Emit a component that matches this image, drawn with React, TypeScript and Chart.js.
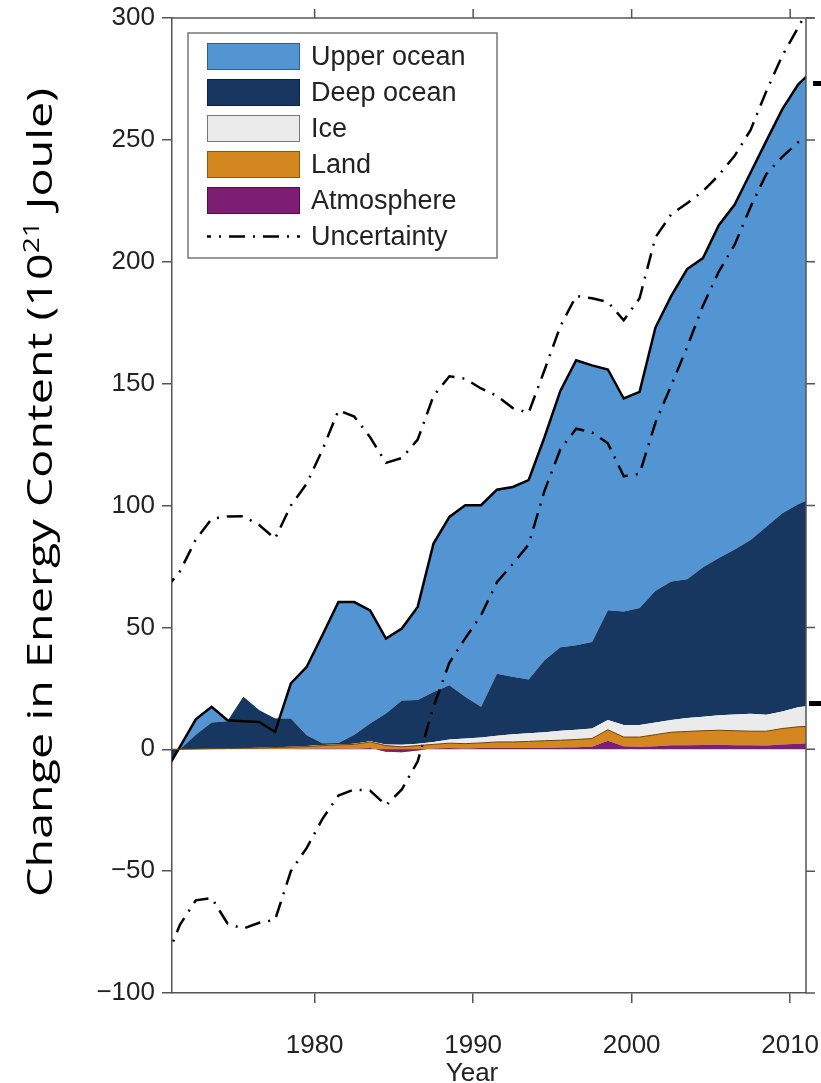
import React, { useEffect, useRef } from "react";
import { Chart, registerables } from "chart.js";

Chart.register(...registerables);

// Mid-year sample points (annual values), 10^21 J relative to 1971
const years = [
  1970.5, 1971.5, 1972.5, 1973.5, 1974.5, 1975.5, 1976.5, 1977.5, 1978.5, 1979.5,
  1980.5, 1981.5, 1982.5, 1983.5, 1984.5, 1985.5, 1986.5, 1987.5, 1988.5, 1989.5,
  1990.5, 1991.5, 1992.5, 1993.5, 1994.5, 1995.5, 1996.5, 1997.5, 1998.5, 1999.5,
  2000.5, 2001.5, 2002.5, 2003.5, 2004.5, 2005.5, 2006.5, 2007.5, 2008.5, 2009.5,
  2010.5, 2011.5,
];

const atmosphere = [
  0, 0, 0, 0, 0, 0, 0, 0, 0, 0.2,
  0.3, 0.3, 0.2, 0.5, -1.0, -1.2, -0.5, 0.3, 0.5, 0.3,
  0.5, 0.6, 0.5, 0.5, 0.6, 0.7, 0.8, 1.0, 3.5, 1.2,
  1.0, 1.2, 1.6, 1.6, 1.7, 1.8, 1.6, 1.6, 1.5, 2.0,
  2.3, 2.4,
];

const land = [
  0, 0, 0.1, 0.2, 0.3, 0.4, 0.5, 0.7, 0.9, 0.9,
  1.2, 1.5, 1.8, 2.5, 2.5, 2.2, 2.0, 1.7, 2.0, 2.0,
  2.1, 2.4, 2.5, 2.7, 2.9, 3.0, 3.2, 3.4, 4.5, 3.8,
  4.0, 4.8, 5.4, 5.7, 5.9, 6.0, 6.0, 5.8, 5.9, 6.5,
  6.9, 7.1,
];

const ice = [
  0, 0, 0, 0, 0, 0, 0.1, 0.1, 0.1, 0.2,
  0.2, 0.2, 0.3, 0.3, 0.5, 0.8, 0.8, 1.0, 1.5, 2.1,
  2.2, 2.5, 3.2, 3.4, 3.5, 3.9, 4.0, 4.1, 4.0, 5.0,
  5.0, 5.0, 5.0, 5.5, 5.7, 6.2, 6.7, 7.2, 6.8, 7.0,
  8.0, 8.5,
];

const deepOcean = [
  -8, 0, 5.9, 10.8, 11.2, 21.1, 15.4, 11.8, 11.6, 4.4,
  0.8, 0.6, 3.7, 7.3, 12.7, 18.2, 17.9, 20.5, 22.3, 17.1,
  12.6, 25.5, 23.5, 22.0, 29.5, 34.2, 34.7, 35.5, 45.0, 46.5,
  48.0, 54.0, 56.8, 56.9, 61.4, 64.5, 67.7, 71.2, 77.1, 81.3,
  83.3, 85.5,
];

const upperOcean = [
  -2, 1, 6.3, 6.4, 0.4, -10, -4.8, -5.5, 14.4, 28.1,
  44.5, 57.8, 54.4, 46.4, 30.7, 29.5, 38.2, 60.9, 69, 78.6,
  82.7, 75.5, 77.9, 81.8, 91.5, 105.2, 116.9, 113.5, 98.8, 87.4,
  88.6, 108, 117.2, 127.3, 126.8, 136.5, 141.5, 150.7, 158.3, 165.7,
  172.2, 175.5,
];

const uncertaintyHigh = [
  65, 73, 86, 94.5, 95.5, 95.6, 92, 86.4, 100, 109,
  123, 139, 136.5, 128, 117.5, 119.5, 127, 145, 153, 152,
  148, 145, 140, 138, 155.5, 173.5, 186, 185, 183.5, 176,
  185, 210, 219.5, 224, 229, 235.5, 243.5, 254, 270, 284.5,
  296, 308,
];

const uncertaintyLow = [
  -88, -72, -62, -61, -71.5, -73.6, -71.2, -70, -50, -40.5,
  -28.5, -19, -16.5, -17, -23, -16.5, -5, 17.5, 35.5, 45.5,
  55, 68.5, 76, 84, 106, 123, 131.5, 130, 125.5, 112,
  113, 134, 149.3, 165, 182, 196, 207, 222.5, 236, 243,
  249, 252,
];

const xTickValues = [1980, 1990, 2000, 2010];
const yTickValues = [-100, -50, 0, 50, 100, 150, 200, 250, 300];
const xRange = [1971, 2011];
const yRange = [-100, 300];

const legendLabels = ["Upper ocean", "Deep ocean", "Ice", "Land", "Atmosphere", "Uncertainty"];
const xTitle = "Year";
const yTitleParts = ["Change in Energy Content (10", "21", " Joule)"];

const COLORS = {
  upper: "#5394d3",
  deep: "#173761",
  ice: "#ebebeb",
  land: "#d4871f",
  atm: "#7d1e74",
  axis: "#555555",
  text: "#222222",
};

const DASH = [16, 8, 2, 8];
const TICK_FONT = "'Liberation Sans', Arial, Helvetica, sans-serif";

function cumulate(parts: number[][]): number[] {
  return years.map((_, i) => parts.reduce((s, a) => s + a[i], 0));
}

function pts(values: number[]) {
  return years.map((x, i) => ({ x, y: values[i] }));
}

const decorPlugin = {
  id: "decor",
  afterDatasetsDraw(chart: any) {
    const { ctx, chartArea, scales } = chart;
    const { left, right, top, bottom } = chartArea;
    ctx.save();
    ctx.strokeStyle = COLORS.axis;
    ctx.lineWidth = 1.5;
    ctx.beginPath();
    ctx.moveTo(left, top);
    ctx.lineTo(right + 8, top);
    ctx.moveTo(right, top);
    ctx.lineTo(right, bottom);
    ctx.stroke();
    ctx.beginPath();
    xTickValues.forEach((v) => {
      const x = scales.x.getPixelForValue(v);
      ctx.moveTo(x, top);
      ctx.lineTo(x, top - 9);
    });
    yTickValues.forEach((v) => {
      const y = scales.y.getPixelForValue(v);
      ctx.moveTo(right, y);
      ctx.lineTo(right + 9, y);
    });
    ctx.stroke();
    // slide bracket marks on the right edge
    ctx.fillStyle = "#000000";
    ctx.fillRect(right + 7, top + 63, 15, 5);
    ctx.fillRect(right + 3, top + 683, 19, 5);
    ctx.restore();
  },
  afterDraw(chart: any) {
    const { ctx, chartArea } = chart;
    const { left, top, right } = chartArea;
    ctx.save();

    // ---------- Legend ----------
    const bx = left + 16;
    const by = top + 15;
    const bw = 309;
    const bh = 225;
    ctx.fillStyle = "#ffffff";
    ctx.fillRect(bx, by, bw, bh);
    ctx.strokeStyle = "#777777";
    ctx.lineWidth = 1.5;
    ctx.strokeRect(bx, by, bw, bh);

    const swatchColors = [COLORS.upper, COLORS.deep, COLORS.ice, COLORS.land, COLORS.atm];
    const swatchBorders = ["#2f5f8f", "#0c2240", "#777777", "#8a5610", "#4c0f47"];
    const sx = bx + 19;
    const sw = 93;
    const sh = 27;
    const rowGap = 36;
    ctx.font = `27px ${TICK_FONT}`;
    ctx.textBaseline = "middle";
    ctx.textAlign = "left";
    legendLabels.forEach((label, i) => {
      const rowTop = by + 10 + i * rowGap;
      const cy = rowTop + sh / 2;
      if (i < swatchColors.length) {
        ctx.fillStyle = swatchColors[i];
        ctx.fillRect(sx, rowTop, sw, sh);
        ctx.strokeStyle = swatchBorders[i];
        ctx.lineWidth = 1;
        ctx.strokeRect(sx + 0.5, rowTop + 0.5, sw - 1, sh - 1);
      } else {
        ctx.strokeStyle = "#000000";
        ctx.lineWidth = 2.5;
        ctx.setLineDash(DASH);
        ctx.lineDashOffset = 12;
        ctx.beginPath();
        ctx.moveTo(sx, cy);
        ctx.lineTo(sx + sw, cy);
        ctx.stroke();
        ctx.setLineDash([]);
      }
      ctx.fillStyle = COLORS.text;
      ctx.fillText(label, sx + sw + 11, cy + 1);
    });

    // ---------- X title ----------
    ctx.font = `26px ${TICK_FONT}`;
    ctx.fillStyle = COLORS.text;
    ctx.textAlign = "center";
    ctx.textBaseline = "middle";
    ctx.fillText(xTitle, (left + right) / 2 - 17, 1074);

    // ---------- Y title (rotated, with superscript) ----------
    const mainFont = "35px 'Open Sans', 'Noto Sans', sans-serif";
    const supFont = "21px 'Open Sans', 'Noto Sans', sans-serif";
    ctx.font = mainFont;
    const w0 = ctx.measureText(yTitleParts[0]).width;
    const w2 = ctx.measureText(yTitleParts[2]).width;
    ctx.font = supFont;
    const w1 = ctx.measureText(yTitleParts[1]).width;
    const total = w0 + w1 + w2;
    const targetLen = 809;
    ctx.translate(52, 897);
    ctx.rotate(-Math.PI / 2);
    ctx.scale(targetLen / total, 1);
    ctx.fillStyle = "#000000";
    ctx.textAlign = "left";
    ctx.textBaseline = "alphabetic";
    ctx.font = mainFont;
    ctx.fillText(yTitleParts[0], 0, 0);
    ctx.font = supFont;
    ctx.fillText(yTitleParts[1], w0, -13);
    ctx.font = mainFont;
    ctx.fillText(yTitleParts[2], w0 + w1, 0);
    ctx.restore();
  },
};

export default function App() {
  const ref = useRef<HTMLCanvasElement | null>(null);

  useEffect(() => {
    if (!ref.current) return;
    const cAtm = cumulate([atmosphere]);
    const cLand = cumulate([atmosphere, land]);
    const cIce = cumulate([atmosphere, land, ice]);
    const cDeep = cumulate([atmosphere, land, ice, deepOcean]);
    const cTotal = cumulate([atmosphere, land, ice, deepOcean, upperOcean]);

    const area = (label: string, data: number[], color: string, fill: any, extra: any = {}) => ({
      label,
      data: pts(data),
      backgroundColor: color,
      borderColor: color,
      borderWidth: 0,
      fill,
      pointRadius: 0,
      tension: 0,
      ...extra,
    });

    const dashed = (label: string, data: number[]) => ({
      label,
      data: pts(data),
      borderColor: "#000000",
      borderWidth: 2.5,
      borderDash: DASH,
      fill: false,
      pointRadius: 0,
      tension: 0,
    });

    const chart = new Chart(ref.current, {
      type: "line",
      data: {
        datasets: [
          area("Atmosphere", cAtm, COLORS.atm, "origin"),
          area("Land", cLand, COLORS.land, "-1", { borderWidth: 1, borderColor: "#6b430c" }),
          area("Ice", cIce, COLORS.ice, "-1"),
          area("Deep ocean", cDeep, COLORS.deep, "-1"),
          area("Upper ocean", cTotal, COLORS.upper, "-1", { borderWidth: 2.5, borderColor: "#000000" }),
          dashed("Uncertainty", uncertaintyHigh),
          dashed("Uncertainty low", uncertaintyLow),
        ],
      },
      options: {
        responsive: false,
        animation: false,
        devicePixelRatio: 1,
        layout: { padding: { top: 18, right: 15, left: 0, bottom: 0 } },
        plugins: {
          legend: { display: false },
          tooltip: { enabled: false },
          filler: { propagate: false, drawTime: "beforeDatasetsDraw" },
        } as any,
        scales: {
          x: {
            type: "linear",
            min: xRange[0],
            max: xRange[1],
            afterBuildTicks: (s: any) => {
              s.ticks = xTickValues.map((v) => ({ value: v }));
            },
            afterFit: (s: any) => {
              s.height = 90;
              s.paddingLeft = 0;
              s.paddingRight = 0;
            },
            grid: { drawOnChartArea: false, drawTicks: true, tickLength: 10, color: COLORS.axis, lineWidth: 1.5 },
            border: { display: true, color: COLORS.axis, width: 1.5 },
            ticks: {
              autoSkip: false,
              maxRotation: 0,
              padding: 27,
              color: COLORS.text,
              font: { family: TICK_FONT, size: 26 },
              callback: (v: any) => String(v),
            },
          },
          y: {
            type: "linear",
            min: yRange[0],
            max: yRange[1],
            afterBuildTicks: (s: any) => {
              s.ticks = yTickValues.map((v) => ({ value: v }));
            },
            afterFit: (s: any) => {
              s.width = 172;
              s.paddingTop = 0;
              s.paddingBottom = 0;
            },
            grid: { drawOnChartArea: false, drawTicks: true, tickLength: 10, color: COLORS.axis, lineWidth: 1.5 },
            border: { display: true, color: COLORS.axis, width: 1.5 },
            ticks: {
              padding: 7,
              color: COLORS.text,
              font: { family: TICK_FONT, size: 26 },
              callback: (v: any) => String(v).replace("-", "\u2212"),
            },
          },
        },
      } as any,
      plugins: [decorPlugin],
    });
    return () => chart.destroy();
  }, []);

  return (
    <div style={{ position: "fixed", left: 0, top: 0, width: 821, height: 1083, background: "#fff" }}>
      <canvas ref={ref} width={821} height={1083} style={{ width: 821, height: 1083, display: "block" }} />
    </div>
  );
}
